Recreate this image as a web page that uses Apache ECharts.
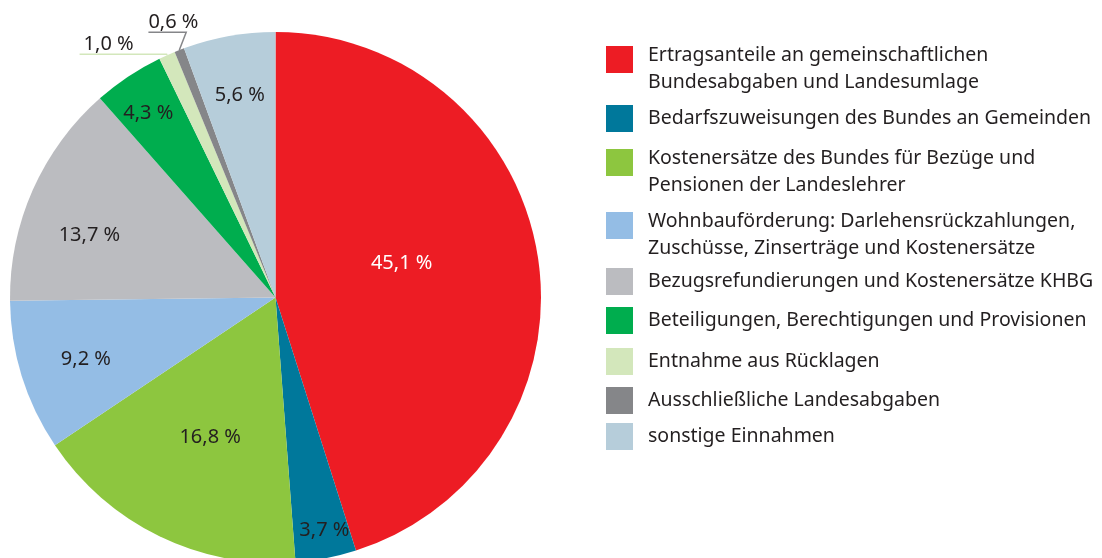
<!DOCTYPE html>
<html>
<head>
<meta charset="utf-8">
<script src="https://cdn.jsdelivr.net/npm/echarts@6/dist/echarts.min.js"></script>
<style>
  html, body { margin: 0; padding: 0; background: #fff; }
  #chart { width: 1102px; height: 558px; }
</style>
</head>
<body>
<div id="chart"></div>
<script>
  // Einnahmen nach Kategorien (Anteile in %)
  var categories = [
    'Ertragsanteile an gemeinschaftlichen\nBundesabgaben und Landesumlage',
    'Bedarfszuweisungen des Bundes an Gemeinden',
    'Kostenersätze des Bundes für Bezüge und\nPensionen der Landeslehrer',
    'Wohnbauförderung: Darlehensrückzahlungen,\nZuschüsse, Zinserträge und Kostenersätze',
    'Bezugsrefundierungen und Kostenersätze KHBG',
    'Beteiligungen, Berechtigungen und Provisionen',
    'Entnahme aus Rücklagen',
    'Ausschließliche Landesabgaben',
    'sonstige Einnahmen'
  ];
  var shares = [45.1, 3.7, 16.8, 9.2, 13.7, 4.3, 1.0, 0.6, 5.6];
  var colors = ['#ed1c24', '#00789b', '#8dc63f', '#94bde5', '#bbbcc0', '#00ad4e', '#d3e7bb', '#858689', '#b6cdda'];

  // Layout (nicht Daten): Legenden-Oberkanten, Label-Verschiebungen
  var legendTop = [46, 105, 149, 212, 268, 307, 348, 387, 423];
  var labelShift = [[-8, -13], [23, 100], [-6, 18], [-60, 21], [-62, -7], [-52, -71], null, null, [-12, -69]];
  var outsideLine = { 6: [1, 87, -4], 7: [19, 24, 0] };   // length, length2, distanceToLabelLine

  var font = 'Noto Sans';
  var chart = echarts.init(document.getElementById('chart'));

  var pieData = [];
  for (var i = 0; i < shares.length; i++) {
    var item = { name: categories[i], value: shares[i], itemStyle: { color: colors[i] } };
    if (outsideLine[i]) {
      item.label = { position: 'outside', distanceToLabelLine: outsideLine[i][2] };
      item.labelLine = { show: true, length: outsideLine[i][0], length2: outsideLine[i][1], lineStyle: { width: 1.5 } };
    }
    if (i === 0) {
      item.label = { color: '#fff' };
    }
    pieData.push(item);
  }

  var legends = [];
  for (var k = 0; k < categories.length; k++) {
    var twoLines = categories[k].indexOf('\n') >= 0;
    legends.push({
      data: [categories[k]],
      orient: 'vertical',
      left: 606,
      top: twoLines ? legendTop[k] - 22.5 : legendTop[k],
      padding: 0,
      itemWidth: 27,
      itemHeight: 27,
      icon: 'rect',
      selectedMode: false,
      formatter: twoLines ? function (name) { return '{s| }\n' + name; } : '{name}',
      textStyle: {
        fontFamily: font,
        fontSize: 19.5,
        lineHeight: 27,
        color: '#231f20',
        padding: [0, 0, 0, 10],
        rich: { s: { fontSize: 8, lineHeight: 18 } }
      }
    });
  }

  var option = {
    animation: false,
    backgroundColor: '#fff',
    legend: legends,
    series: [{
      type: 'pie',
      center: [275.5, 297.5],
      radius: 265.5,
      startAngle: 90,
      clockwise: true,
      avoidLabelOverlap: false,
      data: pieData,
      label: {
        show: true,
        position: 'inside',
        fontFamily: font,
        fontSize: 20,
        color: '#231f20',
        formatter: function (p) {
          return p.value.toFixed(1).replace('.', ',') + ' %';
        }
      },
      labelLine: { show: false },
      labelLayout: function (p) {
        var s = labelShift[p.dataIndex];
        if (!s) {
          var out = { align: 'left', verticalAlign: 'bottom' };
          var pts = p.labelLinePoints;
          if (p.dataIndex === 7 && pts && pts.length === 3) {
            // Knick nach rechts spiegeln wie im Original
            pts[1][0] = 2 * pts[0][0] - pts[1][0];
            out.labelLinePoints = pts;
          }
          return out;
        }
        var r = p.labelRect;
        return {
          x: r.x + r.width / 2 + s[0],
          y: r.y + r.height / 2 + s[1]
        };
      },
      emphasis: { disabled: true }
    }]
  };
  chart.setOption(option);
</script>
</body>
</html>
